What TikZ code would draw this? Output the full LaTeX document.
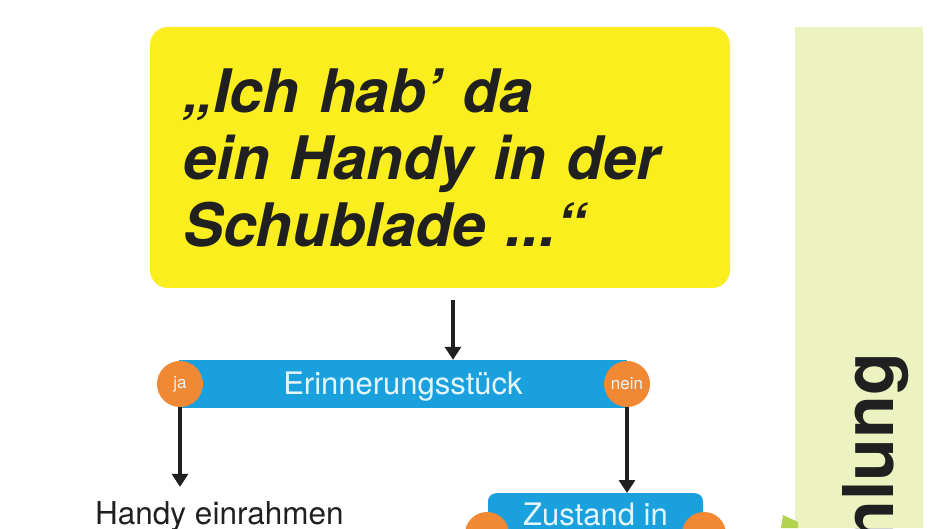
\documentclass[tikz,border=0pt]{standalone}
\usepackage{fontspec}
\setmainfont{TeX Gyre Heros}
\usetikzlibrary{arrows.meta,calc}
\definecolor{yel}{RGB}{250,238,30}
\definecolor{barblue}{RGB}{27,160,222}
\definecolor{bartext}{RGB}{228,246,250}
\definecolor{knoborange}{RGB}{240,136,52}
\definecolor{darkline}{RGB}{32,32,32}
\definecolor{stripgreen}{RGB}{236,243,192}
\definecolor{leafgreen}{RGB}{178,210,80}
\begin{document}
\begin{tikzpicture}[x=1pt,y=1pt,
  arr/.style={draw=darkline, line width=4pt, -{Triangle[length=13pt,width=16pt]}},
  bar/.style={fill=barblue, draw=none, text=bartext, font=\fontsize{31}{31}\selectfont, inner sep=0pt},
  knob/.style={circle, fill=knoborange, draw=none, minimum size=46pt, inner sep=0pt, text=bartext, font=\fontsize{17}{17}\selectfont},
  zknob/.style={knob, minimum size=44pt}]
\useasboundingbox (0,0) rectangle (940,528);
\fill[white] (0,0) rectangle (940,528);
% quote box
\node[fill=yel, rounded corners=18pt, minimum width=580pt, minimum height=261pt,
      inner xsep=33pt, inner ysep=0pt, text width=514pt, align=left, text=darkline,
      font=\fontsize{60}{67}\selectfont\bfseries\itshape] (quote) at (440,370.5)
  {„Ich hab’ da\\ein Handy in der\\Schublade ...“};
% first decision bar
\node[bar, minimum width=448pt, minimum height=48pt, text height=22pt, text depth=0pt] (erin) at (403,144) {Erinnerungsstück};
\node[knob] (ja) at (180,144) {ja};
\node[knob] (nein) at (627,144) {nein};
% left result
\node[anchor=base west, inner sep=0pt, text=darkline, font=\fontsize{31.5}{31.5}\selectfont] (hand) at (95,4) {Handy einrahmen};
% second decision box
\node[bar, rounded corners=8pt, anchor=north, minimum width=215pt, text height=22pt, text depth=40pt, inner ysep=10pt] (zust) at (595.5,35) {Zustand in};
\node[zknob] (zl) at (487,-6) {};
\node[zknob] (zr) at (704,-6) {};
% arrows
\coordinate (qa) at ($(quote.south)+(13,0)$);
\draw[arr, shorten <=12pt] (qa) -- (qa |- erin.north);
\draw[arr] (ja.south) -- ($(ja.south |- hand.north)+(0,14)$);
\draw[arr] (nein.south) -- (nein.south |- zust.north);
% right strip
\fill[stripgreen] (795,0) rectangle (923,501);
\fill[leafgreen] (781,0) -- (783,13) -- (798,6) -- (798,0) -- cycle;
\node[rotate=90, anchor=base east, inner sep=0pt, text=darkline, font=\fontsize{70}{70}\selectfont\bfseries] (nl) at (893,175) {nlung};
\end{tikzpicture}
\end{document}
